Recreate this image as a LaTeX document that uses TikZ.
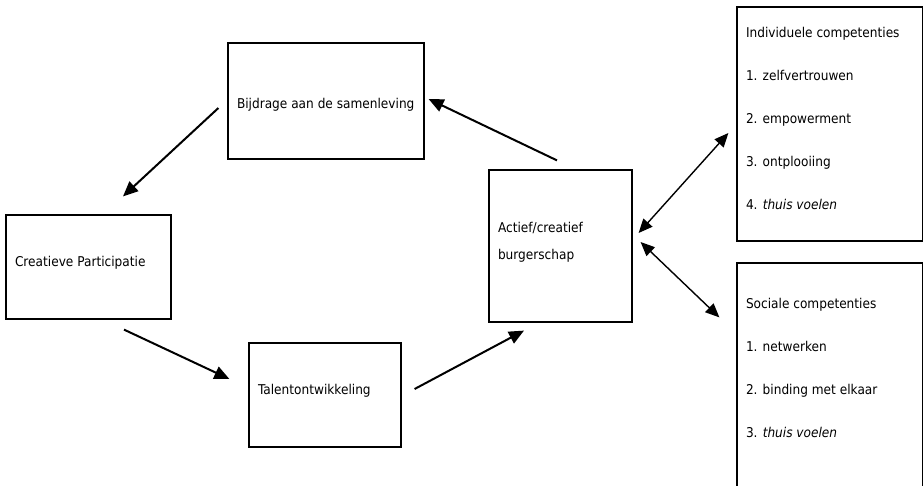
\documentclass[tikz,border=0pt]{standalone}
\usepackage{fontspec}
\setmainfont{DejaVu Sans}[FakeStretch=0.9]
\usetikzlibrary{arrows.meta}

\tikzset{
  box/.style={draw, line width=1.2pt, rectangle, inner xsep=9pt, inner ysep=0pt, align=flush left,
    font=\fontsize{13.5}{17}\selectfont},
  lijst/.style={box, font=\fontsize{13.5}{43}\selectfont},
  arr/.style={line width=2pt, -{Triangle[length=15pt,width=13pt]}},
  darr/.style={line width=1.4pt, {Triangle[length=14pt,width=12pt]}-{Triangle[length=14pt,width=12pt]}},
}

\begin{document}
\begin{tikzpicture}[x=1pt,y=-1pt]
            \useasboundingbox (0,0) rectangle (924,485);
            \clip (0,0) rectangle (924,485);

            % Boxes of the cycle
            \node[box, text width=178pt, minimum height=116pt, text height=17pt, text depth=3pt] (bijdrage) at (326,101) {Bijdrage aan de samenleving};
            \node[box, text width=147pt, minimum height=104pt, text depth=12pt] (creatief) at (88.5,267) {Creatieve Participatie};
            \node[box, text width=134pt, minimum height=104pt, text depth=12pt] (talent) at (325,395) {Talentontwikkeling};
            \node[box, text width=125pt, minimum height=152pt, text depth=38pt,
              font=\fontsize{13.5}{27}\selectfont] (actief) at (560.5,246) {Actief/creatief\\burgerschap};

            % Competences
            \node[lijst, text width=167.5pt, minimum height=234pt, text depth=184pt] (individueel) at (829.75,124)
              {Individuele competenties\\1. zelfvertrouwen\\2. empowerment\\3. ontplooiing\\4. \textit{thuis voelen}};
            \node[lijst, text width=167.5pt, minimum height=240pt, text depth=160pt] (sociaal) at (829.75,383)
              {Sociale competenties\\1. netwerken\\2. binding met elkaar\\3. \textit{thuis voelen}};

            % Cycle arrows
            \draw[arr] ([shift={(-9,7)}]bijdrage.west) -- ([shift={(34.5,-18)}]creatief.north);
            \draw[arr] ([shift={(35.5,10)}]creatief.south) -- ([shift={(-19,-16)}]talent.west);
            \draw[arr] ([shift={(13,-6)}]talent.east) -- ([shift={(-36.5,8)}]actief.south);
            \draw[arr] ([shift={(-3.5,-9)}]actief.north) -- ([shift={(4,-2)}]bijdrage.east);

            % Double arrows to the competences
            \draw[darr] ([shift={(6,-13)}]actief.east) -- ([shift={(-8,9)}]individueel.west);
            \draw[darr] ([shift={(8,-4)}]actief.east) -- ([shift={(-17,55)}]sociaal.north west);
\end{tikzpicture}
\end{document}
